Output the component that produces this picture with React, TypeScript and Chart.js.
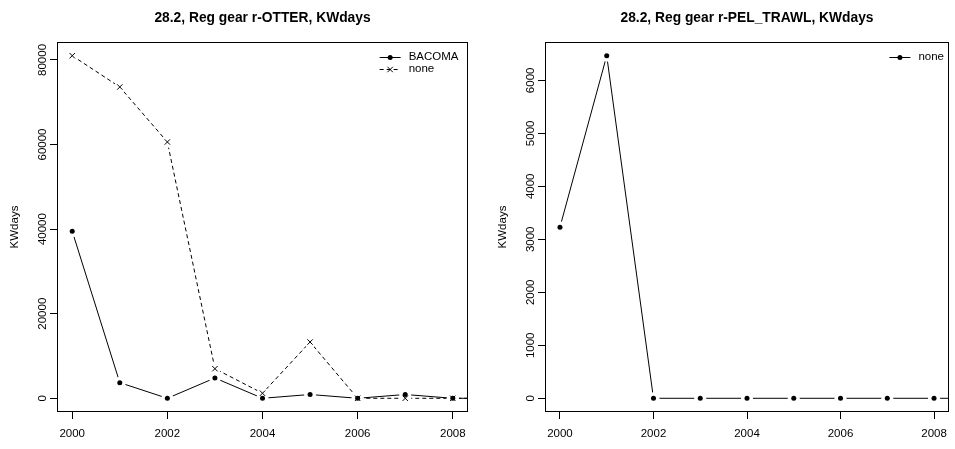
import { useEffect, useRef } from "react";
import { Chart, registerables } from "chart.js";

Chart.register(...registerables);

// ---- data ----
const years = [2000, 2001, 2002, 2003, 2004, 2005, 2006, 2007, 2008, 2009];
const otterBacoma = [39500, 3700, 0, 4800, 0, 900, 0, 900, 0, 0];
const otterNone = [81000, 73600, 60600, 7000, 1200, 13300, 0, 0, 0, 0];
const pelTrawlNone = [3230, 6465, 0, 0, 0, 0, 0, 0, 0, 0];

const xLimits = [2000, 2008];
const xTicks = [2000, 2002, 2004, 2006, 2008];
const otterYTicks = [0, 20000, 40000, 60000, 80000];
const pelYTicks = [0, 1000, 2000, 3000, 4000, 5000, 6000];

const otterTitle = "28.2, Reg gear r-OTTER, KWdays";
const pelTitle = "28.2, Reg gear r-PEL_TRAWL, KWdays";
const yAxisTitle = "KWdays";

type Marker = "dot" | "cross";
type Series = { label: string; values: number[]; dashed: boolean; marker: Marker };

const otterSeries: Series[] = [
  { label: "BACOMA", values: otterBacoma, dashed: false, marker: "dot" },
  { label: "none", values: otterNone, dashed: true, marker: "cross" },
];
const pelSeries: Series[] = [{ label: "none", values: pelTrawlNone, dashed: false, marker: "dot" }];

// ---- look ----
const FONT = '"Liberation Sans", Arial, Helvetica, sans-serif';
const TICK_PX = 11.5;
const TITLE_PX = 13.8;
const LEGEND_PX = 11.5;
const CANVAS_H = 449;
const DASH = [4, 3];

type Area = { left: number; top: number; right: number; bottom: number };

function drawMarker(ctx: CanvasRenderingContext2D, marker: Marker, x: number, y: number) {
  ctx.fillStyle = "#000";
  ctx.strokeStyle = "#000";
  ctx.lineWidth = 1;
  ctx.setLineDash([]);
  if (marker === "dot") {
    ctx.beginPath();
    ctx.arc(x, y, 2.5, 0, Math.PI * 2);
    ctx.fill();
  } else {
    const r = 2.7;
    ctx.beginPath();
    ctx.moveTo(x - r, y - r);
    ctx.lineTo(x + r, y + r);
    ctx.moveTo(x - r, y + r);
    ctx.lineTo(x + r, y - r);
    ctx.stroke();
  }
}

// Box, tick labels, titles and legend in the style of base R graphics.
function makeDecorations(title: string, series: Series[], legendInset: number) {
  return {
    id: "rDecorations",
    afterDraw(chart: any) {
      const { ctx, chartArea: a, scales } = chart;
      ctx.save();
      ctx.strokeStyle = "#000";
      ctx.lineWidth = 1;
      ctx.setLineDash([]);
      const l = Math.round(a.left) + 0.5;
      const t = Math.round(a.top) + 0.5;
      const r = Math.round(a.right) - 0.5;
      const b = Math.round(a.bottom) - 0.5;
      ctx.strokeRect(l, t, r - l, b - t);

      ctx.fillStyle = "#000";
      // x tick labels
      ctx.font = `${TICK_PX}px ${FONT}`;
      ctx.textAlign = "center";
      ctx.textBaseline = "middle";
      for (const tk of scales.x.ticks) {
        const px = scales.x.getPixelForValue(tk.value);
        ctx.fillText(String(tk.value), px, a.bottom + 21.5);
      }
      // y tick labels, rotated like R's las = 0
      for (const tk of scales.y.ticks) {
        const py = scales.y.getPixelForValue(tk.value);
        ctx.save();
        ctx.translate(a.left - 14, py);
        ctx.rotate(-Math.PI / 2);
        ctx.fillText(String(tk.value), 0, 0);
        ctx.restore();
      }
      // y axis title
      ctx.save();
      ctx.translate(a.left - 42, (a.top + a.bottom) / 2);
      ctx.rotate(-Math.PI / 2);
      ctx.fillText(yAxisTitle, 0, 0);
      ctx.restore();
      // main title
      ctx.font = `bold ${TITLE_PX}px ${FONT}`;
      ctx.fillText(title, (a.left + a.right) / 2, 18.2);

      // legend, top right inside the box
      ctx.font = `${LEGEND_PX}px ${FONT}`;
      const widest = Math.max(...series.map((s) => ctx.measureText(s.label).width));
      const textLeft = a.right - legendInset - widest;
      const segEnd = textLeft - 8;
      const segStart = segEnd - 21;
      series.forEach((s, i) => {
        const y = a.top + 15 + i * 11.5;
        ctx.strokeStyle = "#000";
        ctx.lineWidth = 1;
        ctx.setLineDash(s.dashed ? DASH : []);
        ctx.beginPath();
        ctx.moveTo(segStart, Math.round(y) + 0.5);
        ctx.lineTo(segEnd, Math.round(y) + 0.5);
        ctx.stroke();
        drawMarker(ctx, s.marker, (segStart + segEnd) / 2, Math.round(y) + 0.5);
        ctx.fillStyle = "#000";
        ctx.textAlign = "left";
        ctx.textBaseline = "middle";
        ctx.fillText(s.label, textLeft, y);
      });
      ctx.restore();
    },
  };
}

type PanelProps = {
  left: number;
  width: number;
  area: Area;
  title: string;
  series: Series[];
  yTicks: number[];
  legendInset: number;
};

function RPanel({ left, width, area, title, series, yTicks, legendInset }: PanelProps) {
  const ref = useRef<HTMLCanvasElement>(null);

  useEffect(() => {
    const canvas = ref.current;
    if (!canvas) return;
    const peak = Math.max(...series.flatMap((s) => s.values));
    // R's default "r" axis style pads the data range by 4% on each side
    const yPad = peak * 0.04;
    const xPad = (xLimits[1] - xLimits[0]) * 0.04;

    const datasets: any[] = [];
    series.forEach((s) => {
      const pts = years.map((yr, i) => ({ x: yr, y: s.values[i] }));
      datasets.push({
        label: s.label,
        data: pts,
        borderColor: "#000",
        borderWidth: 1,
        borderDash: s.dashed ? DASH : [],
        pointRadius: 0,
        tension: 0,
        order: 3,
      });
      // white disc under each marker leaves the gap of type = "b"
      datasets.push({
        label: s.label,
        data: pts,
        showLine: false,
        pointStyle: "circle",
        pointRadius: 6,
        pointBackgroundColor: "#fff",
        pointBorderColor: "#fff",
        pointBorderWidth: 0,
        order: 2,
      });
      datasets.push({
        label: s.label,
        data: pts,
        showLine: false,
        pointStyle: s.marker === "dot" ? "circle" : "crossRot",
        pointRadius: s.marker === "dot" ? 2.5 : 3.8,
        pointBackgroundColor: "#000",
        pointBorderColor: "#000",
        pointBorderWidth: s.marker === "dot" ? 0 : 1,
        order: 1,
      });
    });

    const axisGrid = {
      drawOnChartArea: false,
      drawTicks: true,
      tickLength: 7,
      color: "#000",
      tickColor: "#000",
      lineWidth: 1,
    };

    const chart = new Chart(canvas, {
      type: "line",
      data: { datasets },
      options: {
        animation: false,
        responsive: false,
        devicePixelRatio: 1,
        events: [],
        layout: { padding: { top: area.top, right: width - area.right, bottom: 0, left: 0 } },
        plugins: {
          legend: { display: false },
          tooltip: { enabled: false },
          title: { display: false },
        },
        scales: {
          x: {
            type: "linear",
            min: xLimits[0] - xPad,
            max: xLimits[1] + xPad,
            grid: axisGrid,
            border: { display: false },
            ticks: { display: false },
            afterBuildTicks: (s: any) => {
              s.ticks = xTicks.map((v) => ({ value: v }));
            },
            afterFit: (s: any) => {
              s.height = CANVAS_H - area.bottom;
            },
          },
          y: {
            type: "linear",
            min: -yPad,
            max: peak + yPad,
            grid: axisGrid,
            border: { display: false },
            ticks: { display: false },
            afterBuildTicks: (s: any) => {
              s.ticks = yTicks.map((v) => ({ value: v }));
            },
            afterFit: (s: any) => {
              s.width = area.left;
            },
          },
        },
      } as any,
      plugins: [makeDecorations(title, series, legendInset)],
    });
    return () => chart.destroy();
  }, [left, width, area, title, series, yTicks, legendInset]);

  return (
    <canvas
      ref={ref}
      width={width}
      height={CANVAS_H}
      style={{ position: "absolute", left, top: 0, width, height: CANVAS_H }}
    />
  );
}

const otterArea: Area = { left: 57, top: 42, right: 468, bottom: 412 };
const pelArea: Area = { left: 67, top: 42, right: 475, bottom: 412 };

export default function App() {
  return (
    <div
      style={{
        position: "absolute",
        left: 0,
        top: 0,
        width: 955,
        height: CANVAS_H,
        background: "#fff",
        overflow: "hidden",
      }}
    >
      <RPanel
        left={0}
        width={478}
        area={otterArea}
        title={otterTitle}
        series={otterSeries}
        yTicks={otterYTicks}
        legendInset={9.5}
      />
      <RPanel
        left={478}
        width={477}
        area={pelArea}
        title={pelTitle}
        series={pelSeries}
        yTicks={pelYTicks}
        legendInset={5}
      />
    </div>
  );
}
